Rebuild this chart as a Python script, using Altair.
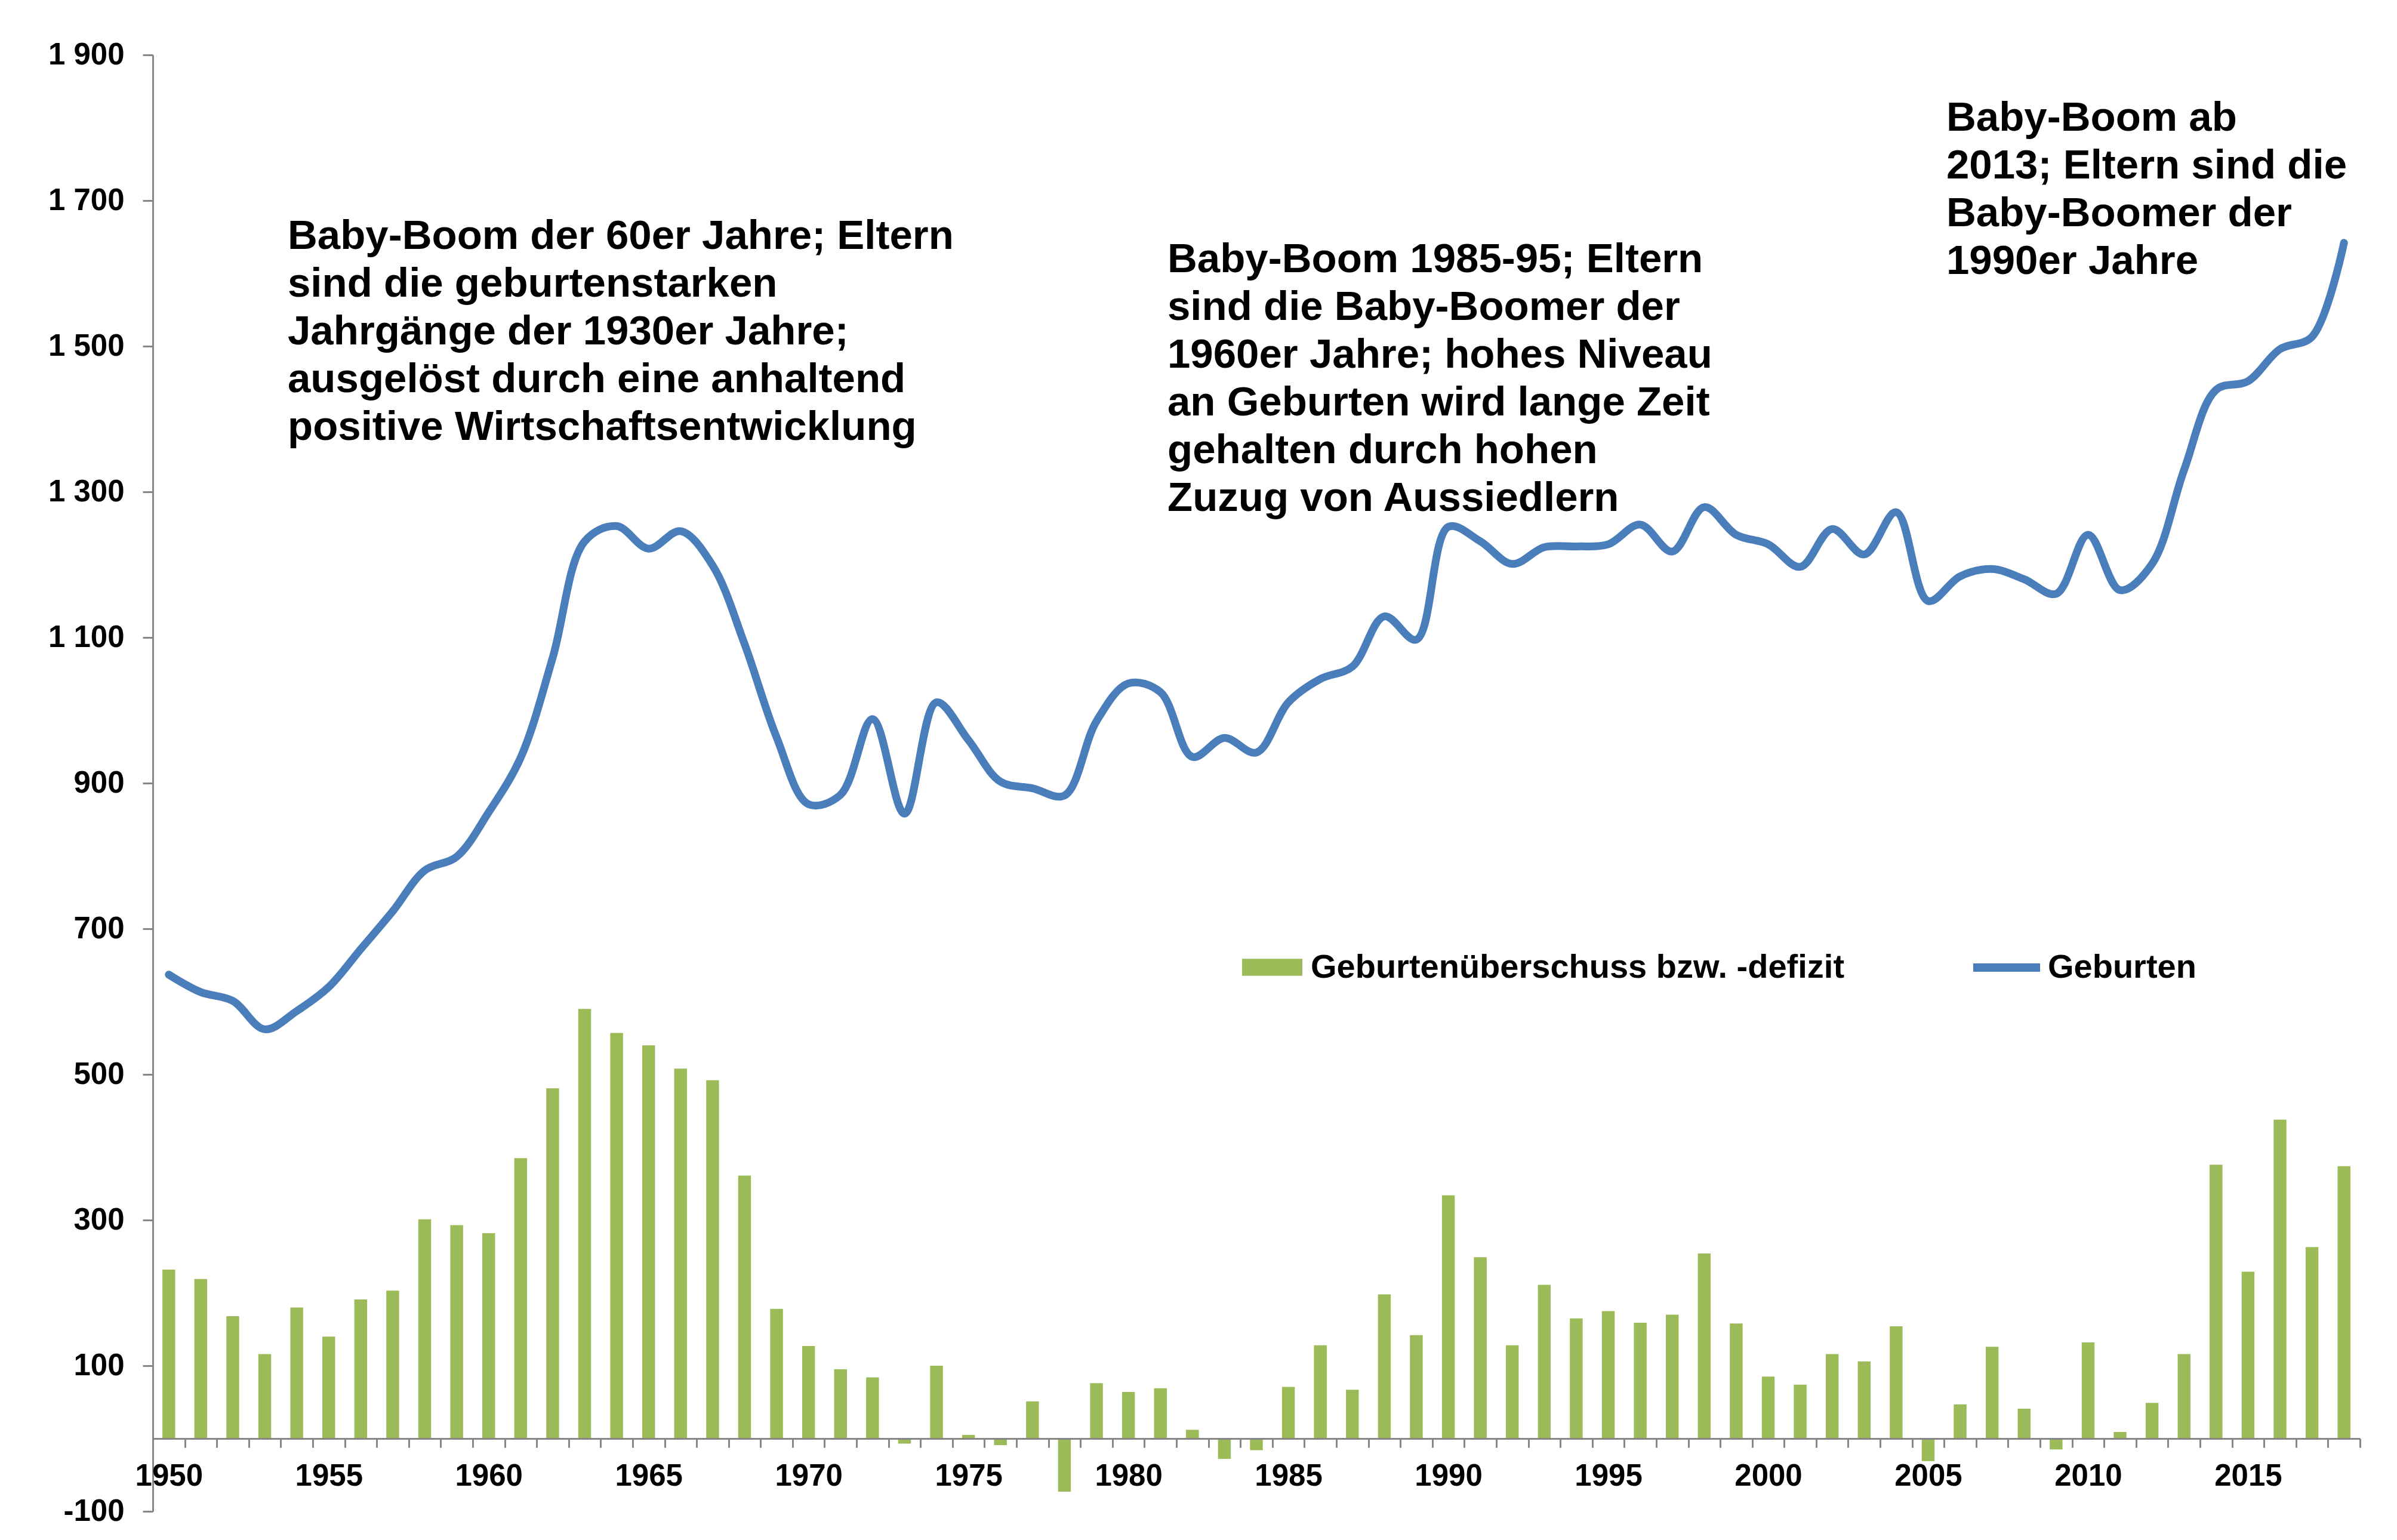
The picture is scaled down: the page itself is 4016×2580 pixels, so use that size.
"""Geburten und Geburtenüberschuss 1950-2018 — Altair layered bar/line chart."""

import altair as alt
import pandas as pd

years = list(range(1950, 2019))

geburten = [
    637, 613, 601, 562, 587, 620, 672, 724, 780, 799,
    860, 935, 1072, 1232, 1253, 1222, 1246, 1199, 1091, 963,
    871, 884, 988, 858, 1011, 959, 902, 893, 883, 985,
    1037, 1025, 936, 962, 942, 1011, 1043, 1060, 1129, 1097,
    1252, 1232, 1201, 1224, 1225, 1228, 1255, 1218, 1279, 1241,
    1228, 1197, 1249, 1214, 1272, 1150, 1184, 1194, 1180, 1160,
    1241, 1165, 1201, 1330, 1440, 1452, 1496, 1513, 1642,
]

saldo = [
    232, 219, 168, 116, 180, 140, 191, 203, 301, 293,
    282, 385, 481, 590, 557, 540, 508, 492, 361, 178,
    127, 95, 84, -7, 100, 5, -9, 51, -73, 76,
    64, 69, 12, -28, -16, 71, 128, 67, 198, 142,
    334, 249, 128, 211, 165, 175, 159, 170, 254, 158,
    85, 74, 116, 106, 154, -31, 47, 126, 41, -15,
    132, 9, 49, 116, 376, 229, 438, 263, 374,
]

y_ticks = list(range(-100, 2000, 200))

legend_saldo = "Geburtenüberschuss bzw. -defizit"
legend_geburten = "Geburten"

note_60er = [
    "Baby-Boom der 60er Jahre; Eltern",
    "sind die geburtenstarken",
    "Jahrgänge der 1930er Jahre;",
    "ausgelöst durch eine anhaltend",
    "positive Wirtschaftsentwicklung",
]
note_1985 = [
    "Baby-Boom 1985-95; Eltern",
    "sind die Baby-Boomer der",
    "1960er Jahre; hohes Niveau",
    "an Geburten wird lange Zeit",
    "gehalten durch hohen",
    "Zuzug von Aussiedlern",
]
note_2013 = [
    "Baby-Boom ab",
    "2013; Eltern sind die",
    "Baby-Boomer der",
    "1990er Jahre",
]

FONT = "Liberation Sans, Arial, sans-serif"
GREEN = "#9BBB59"
BLUE = "#4A7EBB"
GREY = "#868686"

df = pd.DataFrame({"Jahr": years, "Geburten": geburten, "Saldo": saldo})

label_style = dict(
    labelFont=FONT, labelFontSize=51, labelFontWeight="bold", labelColor="black"
)

x_enc = alt.X(
    "Jahr:O",
    scale=alt.Scale(paddingInner=0, paddingOuter=0),
    axis=alt.Axis(
        title=None,
        offset=-122,
        zindex=1,
        domainColor=GREY,
        domainWidth=3,
        tickColor=GREY,
        tickWidth=3,
        tickSize=15,
        tickBand="extent",
        labelAngle=0,
        labelPadding=23,
        labelOverlap=False,
        labelExpr="datum.value % 5 == 0 ? datum.label : ''",
        **label_style,
    ),
)

y_scale = alt.Scale(domain=[-100, 1900], nice=False, zero=False)

y_axis = alt.Axis(
    title=None,
    values=y_ticks,
    grid=False,
    domainColor=GREY,
    domainWidth=3,
    tickColor=GREY,
    tickWidth=3,
    tickSize=17,
    labelPadding=31,
    labelExpr="(datum.value < 0 ? '-' : '') + replace(format(abs(datum.value), ','), ',', ' ')",
    **label_style,
)

legend_style = dict(
    title=None,
    orient="none",
    padding=0,
    labelFont=FONT,
    labelFontSize=56,
    labelFontWeight="bold",
    labelColor="black",
    labelLimit=3000,
)

bars = (
    alt.Chart(df)
    .transform_calculate(Reihe=f"'{legend_saldo}'")
    .mark_bar(width={"band": 0.4})
    .encode(
        x=x_enc,
        y=alt.Y("Saldo:Q", scale=y_scale, axis=y_axis, stack=None),
        color=alt.Color(
            "Reihe:N",
            scale=alt.Scale(domain=[legend_saldo], range=[GREEN]),
            legend=alt.Legend(
                legendX=1825,
                legendY=1478,
                symbolType="M-1,-0.28H1V0.28H-1Z",
                symbolSize=10201,
                symbolStrokeWidth=0,
                symbolOpacity=1,
                labelOffset=14,
                **legend_style,
            ),
        ),
    )
)

line = (
    alt.Chart(df)
    .transform_calculate(Reihe=f"'{legend_geburten}'")
    .mark_line(
        interpolate="catmull-rom", strokeWidth=13, strokeCap="round", strokeJoin="round"
    )
    .encode(
        x=alt.X("Jahr:O"),
        y=alt.Y("Geburten:Q", scale=y_scale),
        color=alt.Color(
            "Reihe:N",
            scale=alt.Scale(domain=[legend_geburten], range=[BLUE]),
            legend=alt.Legend(
                legendX=3043,
                legendY=1466,
                symbolType="stroke",
                symbolSize=12544,
                symbolStrokeWidth=14,
                labelOffset=6,
                **legend_style,
            ),
        ),
    )
)

one_row = pd.DataFrame({"n": [0]})


def note(lines, px, py):
    return (
        alt.Chart(one_row)
        .mark_text(
            text=lines,
            align="left",
            baseline="alphabetic",
            font=FONT,
            fontSize=69,
            fontWeight="bold",
            lineHeight=80,
            color="black",
        )
        .encode(x=alt.value(px), y=alt.value(py))
    )


chart = (
    alt.layer(
        bars,
        line,
        note(note_60er, 226, 325),
        note(note_1985, 1700, 364),
        note(note_2013, 3005, 127),
    )
    .resolve_scale(color="independent")
    .properties(
        width=3698,
        height=2440,
        padding={"left": 248, "top": 84, "right": 50, "bottom": 40},
        autosize=alt.AutoSizeParams(type="none"),
        background="white",
    )
    .configure_view(stroke=None)
)

chart.save("out.html", embed_options={"renderer": "svg", "actions": False})
